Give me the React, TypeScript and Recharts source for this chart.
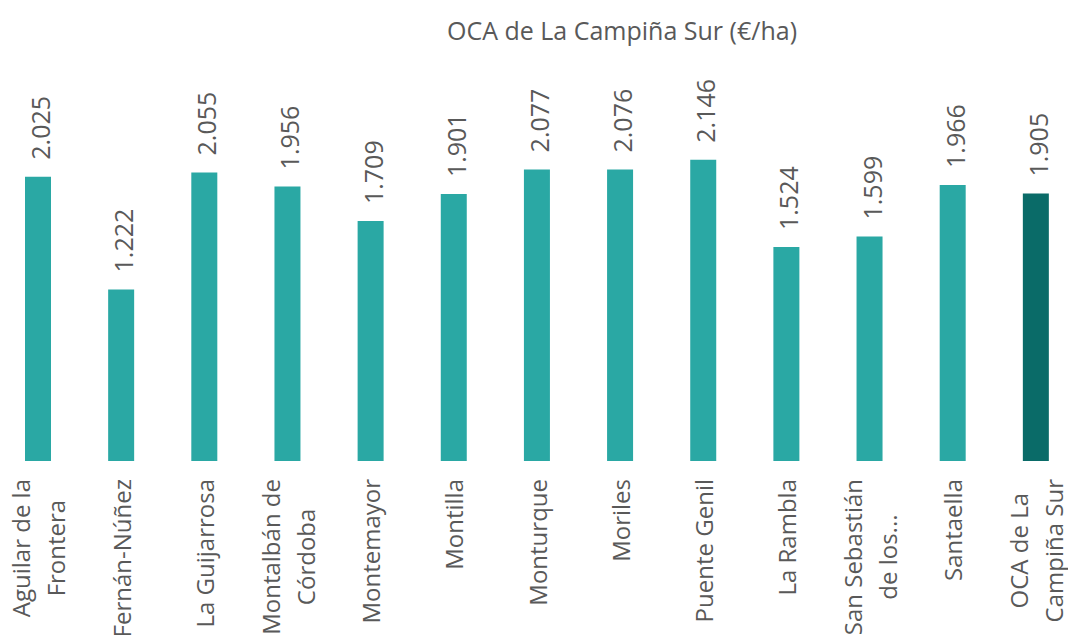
import { BarChart, Bar, XAxis, YAxis, Cell, LabelList } from 'recharts'

const categories = [
  'Aguilar de la Frontera', 'Fernán-Núñez', 'La Guijarrosa', 'Montalbán de Córdoba',
  'Montemayor', 'Montilla', 'Monturque', 'Moriles', 'Puente Genil', 'La Rambla',
  'San Sebastián de los Ballesteros', 'Santaella', 'OCA de La Campiña Sur',
]
// lines as shown under each bar
const tickLabels = [
  ['Aguilar de la', 'Frontera'], ['Fernán-Núñez'], ['La Guijarrosa'], ['Montalbán de', 'Córdoba'],
  ['Montemayor'], ['Montilla'], ['Monturque'], ['Moriles'], ['Puente Genil'], ['La Rambla'],
  ['San Sebastián', 'de los...'], ['Santaella'], ['OCA de La', 'Campiña Sur'],
]
const ocaValues = [2025, 1222, 2055, 1956, 1709, 1901, 2077, 2076, 2146, 1524, 1599, 1966, 1905]
const title = 'OCA de La Campiña Sur (€/ha)'

const data = categories.map((name, i) => ({ name, value: ocaValues[i], lines: tickLabels[i] }))

const FONT = '"Open Sans", sans-serif'
const TEXT = '#595959'
const TEAL = '#2AA8A4'
const DARK = '#0A6B68'

const fmt = (n: number) => String(n).replace(/\B(?=(\d{3})+(?!\d))/g, '.')

let ctx: CanvasRenderingContext2D | null = null
function measure(s: string, size: number) {
  if (!ctx) ctx = document.createElement('canvas').getContext('2d')
  if (!ctx) return s.length * size * 0.5
  ctx.font = `${size}px "Open Sans"`
  return ctx.measureText(s).width
}

function CatTick(props: any) {
  const { x, y, payload } = props
  const row = data.find(d => d.name === payload.value)
  const lines = row ? row.lines : [String(payload.value)]
  const size = 24
  const maxW = Math.max(...lines.map(l => measure(l, size)))
  const cy = y + 18 + maxW / 2
  const gap = 35
  return (
    <g transform={`translate(${x},${cy}) rotate(-90)`}>
      {lines.map((l, i) => (
        <text key={i} x={0} y={10 + (i - (lines.length - 1) / 2) * gap} textAnchor="middle"
              fontSize={size} fontFamily={FONT} fill={TEXT}>{l}</text>
      ))}
    </g>
  )
}

function ValueLabel(props: any) {
  const { x, y, width, value } = props
  const cx = x + width / 2
  return (
    <text transform={`translate(${cx},${y - 17}) rotate(-90)`} x={0} y={12} textAnchor="start"
          fontSize={25} fontFamily={FONT} fill={TEXT}>{fmt(value)}</text>
  )
}

export default function App() {
  return (
    <div style={{ position: 'absolute', left: 0, top: 0, width: 1068, height: 635, overflow: 'hidden', background: '#fff' }}>
      <div style={{ position: 'absolute', left: 622, top: 18, transform: 'translateX(-50%)', whiteSpace: 'nowrap',
                    fontFamily: FONT, fontSize: 25, lineHeight: '25px', color: TEXT }}>{title}</div>
      <div style={{ position: 'absolute', left: -4, top: 0 }}>
        <BarChart width={1081} height={635} data={data} margin={{ top: 110, right: 0, bottom: 0, left: 0 }} barCategoryGap={0}>
          <XAxis dataKey="name" axisLine={false} tickLine={false} tickSize={0} tickMargin={0} height={174}
                 interval={0} tick={<CatTick />} />
          <YAxis hide domain={[0, 2500]} />
          <Bar dataKey="value" barSize={26} isAnimationActive={false}>
            {data.map((d, i) => (
              <Cell key={i} fill={i === data.length - 1 ? DARK : TEAL} />
            ))}
            <LabelList dataKey="value" content={<ValueLabel />} />
          </Bar>
        </BarChart>
      </div>
    </div>
  )
}
